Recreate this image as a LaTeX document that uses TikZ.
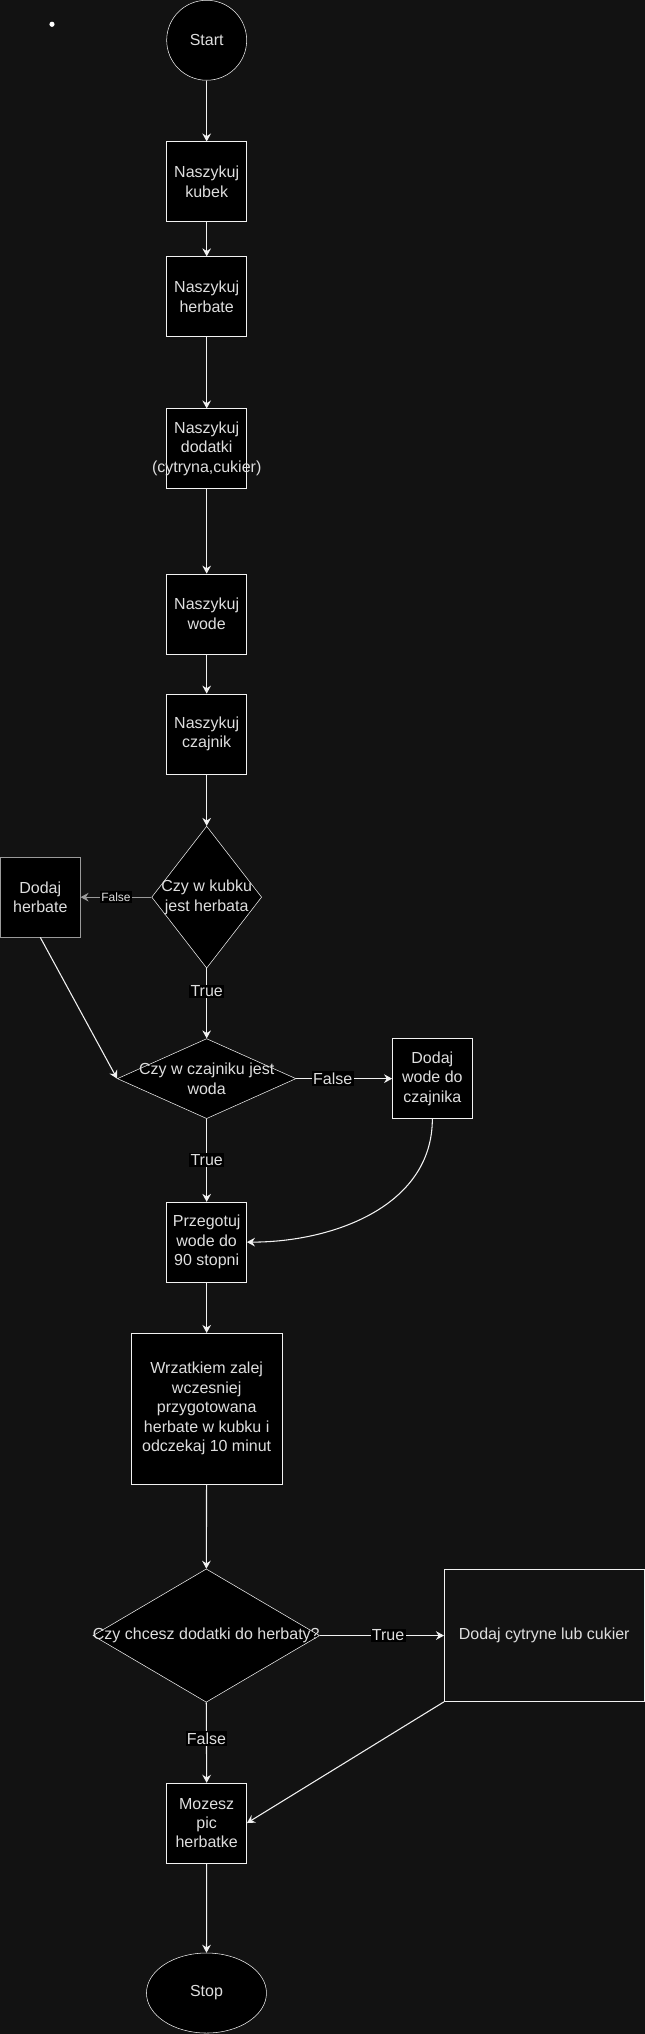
\documentclass[tikz,border=0pt]{standalone}
\usepackage{fontspec}
\setmainfont{Liberation Sans}
\usepackage{tikz}
\usetikzlibrary{shapes.geometric,arrows.meta}

\definecolor{bg}{HTML}{121212}
\definecolor{edge}{HTML}{F2F2F2}
\definecolor{txt}{HTML}{DEDEDE}
\definecolor{dim}{HTML}{9A9A9A}

\begin{document}
\begin{tikzpicture}[x=0.75pt, y=-0.75pt,
    every node/.style={font=\fontsize{12}{14.6}\selectfont, text=txt},
    stepbox/.style={draw=edge, fill=black, rectangle, minimum width=60pt, minimum height=60pt, inner sep=0pt, align=center},
    terminal/.style={draw=edge, fill=black, ellipse, minimum height=60pt, inner sep=0pt},
    decision/.style={draw=edge, fill=black, diamond, inner sep=0pt},
    choice/.style={fill=black, inner sep=1pt},
    flow/.style={draw=edge, line width=0.8pt, -{Stealth[length=6pt,width=6.5pt,inset=2pt]}}]

    \fill[bg] (0,0) rectangle (645,2034);

    \fill[white] (52,24) circle (2.6);

    \node[terminal, minimum width=60pt] (start) at (206.7,40) {Start};

    \node[stepbox] (kubek) at (206.7,181.5) {Naszykuj\\kubek};

    \node[stepbox] (herbate) at (206.7,296.4) {Naszykuj\\herbate};

    \node[stepbox, label={[align=center]center:Naszykuj\\dodatki\\(cytryna,cukier)}] (dodatki) at (206.7,448.5) {};

    \node[stepbox] (wode) at (206.7,613.7) {Naszykuj\\wode};

    \node[stepbox] (czajnik) at (206.7,733.7) {Naszykuj\\czajnik};

    \node[decision, minimum width=82.5pt, minimum height=106.5pt, label={[align=center]center:Czy w kubku\\jest herbata}] (kubekQ) at (206.7,897) {};

    \node[stepbox, draw=dim] (dodajHerbate) at (40.3,897) {Dodaj\\herbate};

    \node[decision, minimum width=134pt, minimum height=60pt, label={[align=center]center:Czy w czajniku jest\\woda}] (czajnikQ) at (206.7,1078.5) {};

    \node[stepbox] (dodajWode) at (432.4,1078.5) {Dodaj\\wode do\\czajnika};

    \node[stepbox] (zagotuj) at (206.7,1242) {Przegotuj\\wode do\\90 stopni};

    \node[stepbox, minimum width=113pt, minimum height=113pt] (zalej) at (206.7,1408.4) {Wrzatkiem zalej\\wczesniej\\przygotowana\\herbate w kubku i\\odczekaj 10 minut};

    \node[decision, minimum width=170pt, minimum height=100pt, label={center:Czy chcesz dodatki do herbaty?}] (dodatkiQ) at (206.3,1635.5) {};

    \node[stepbox, fill=none, minimum width=150pt, minimum height=99pt] (cytryna) at (544.3,1635.5) {Dodaj cytryne lub cukier};

    \node[stepbox] (pij) at (206.7,1823) {Mozesz\\pic\\herbatke};

    \node[terminal, minimum width=90pt] (stop) at (206.5,1993) {Stop};

    \draw[flow] (start) -- (kubek);

    \draw[flow] (kubek) -- (herbate);

    \draw[flow] (herbate) -- (dodatki);

    \draw[flow] (dodatki) -- (wode);

    \draw[flow] (wode) -- (czajnik);

    \draw[flow] (czajnik) -- (kubekQ);

    \draw[flow, draw=dim] (kubekQ.west) -- node[choice, font=\fontsize{9}{10}\selectfont] {False} (dodajHerbate.east);

    \draw[flow] (kubekQ.south) -- node[choice, pos=0.33] {True} (czajnikQ.north);

    \draw[flow] (dodajHerbate.south) -- (czajnikQ.west);

    \draw[flow] (czajnikQ.east) -- node[choice, pos=0.38] {False} (dodajWode.west);

    \draw[flow] (czajnikQ.south) -- node[choice] {True} (zagotuj.north);

    \draw[flow] (dodajWode.south) to[out=-90, in=0] (zagotuj.east);

    \draw[flow] (zagotuj) -- (zalej);

    \draw[flow] (zalej) -- (dodatkiQ);

    \draw[flow] (dodatkiQ.east) -- node[choice, pos=0.55] {True} (cytryna.west);

    \draw[flow] (dodatkiQ.south) -- node[choice, pos=0.45] {False} (pij.north);

    \draw[flow] (cytryna.south west) -- (pij.east);

    \draw[flow] (pij) -- (stop);

  \end{tikzpicture}
\end{document}
